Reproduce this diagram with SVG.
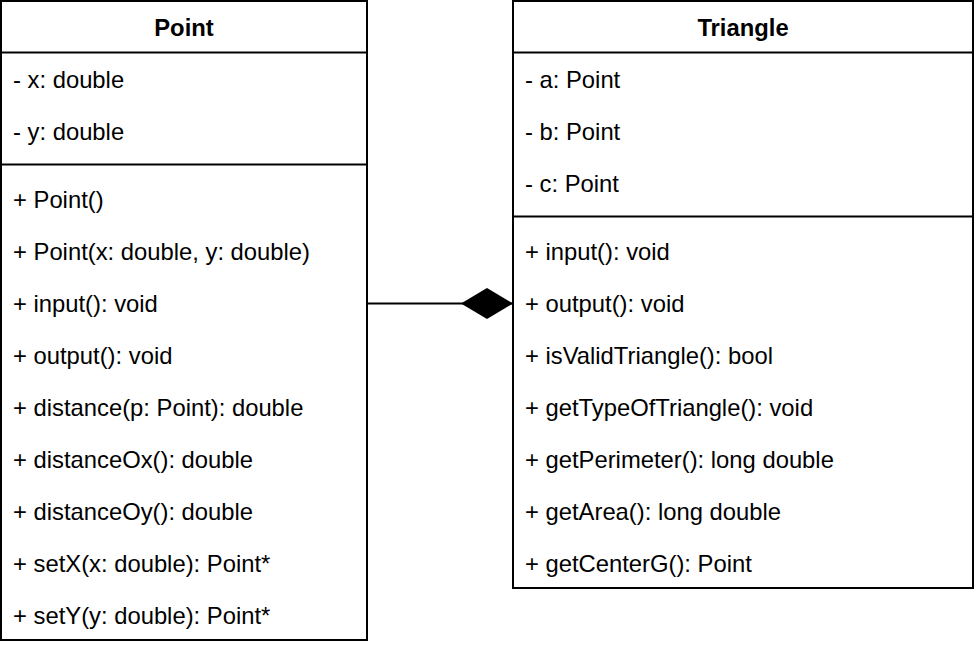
<svg xmlns="http://www.w3.org/2000/svg" width="974" height="648" viewBox="0 0 974 648">
<defs>
<style>
.box{fill:#ffffff;stroke:#000000;stroke-width:2}
.sep{stroke:#000000;stroke-width:2;fill:none}
.t{font-family:"Liberation Sans",Arial,sans-serif;font-size:23.8px;fill:#000000}
.h{font-family:"Liberation Sans",Arial,sans-serif;font-size:23.8px;font-weight:bold;fill:#000000;text-anchor:middle}
.conn{stroke:#000000;stroke-width:2;fill:none}
</style>
<marker id="diamond" markerUnits="userSpaceOnUse" markerWidth="54" markerHeight="34" viewBox="0 0 54 34" refX="53" refY="17" orient="auto">
<path d="M1,17 L27,1.5 L53,17 L27,32.5 Z" fill="#000000"/>
</marker>
</defs>
<rect width="974" height="648" fill="#ffffff"/>
<g id="connectors">
<path class="conn" d="M367,303.5 L513,303.5" marker-end="url(#diamond)"/>
</g>
<g id="point">
<rect class="box" x="1" y="1" width="366" height="639"/>
<line class="sep" x1="1" y1="52.5" x2="367" y2="52.5"/>
<line class="sep" x1="1" y1="164.5" x2="367" y2="164.5"/>
<text class="h" x="184" y="35.5">Point</text>
<text class="t" x="13" y="87.5">- x: double</text>
<text class="t" x="13" y="139.5">- y: double</text>
<text class="t" x="13" y="207.5">+ Point()</text>
<text class="t" x="13" y="259.5">+ Point(x: double, y: double)</text>
<text class="t" x="13" y="311.5">+ input(): void</text>
<text class="t" x="13" y="363.5">+ output(): void</text>
<text class="t" x="13" y="415.5">+ distance(p: Point): double</text>
<text class="t" x="13" y="467.5">+ distanceOx(): double</text>
<text class="t" x="13" y="519.5">+ distanceOy(): double</text>
<text class="t" x="13" y="571.5">+ setX(x: double): Point*</text>
<text class="t" x="13" y="623.5">+ setY(y: double): Point*</text>
</g>
<g id="triangle">
<rect class="box" x="513" y="1" width="460" height="587"/>
<line class="sep" x1="513" y1="52.5" x2="973" y2="52.5"/>
<line class="sep" x1="513" y1="216.5" x2="973" y2="216.5"/>
<text class="h" x="743" y="35.5">Triangle</text>
<text class="t" x="525" y="87.5">- a: Point</text>
<text class="t" x="525" y="139.5">- b: Point</text>
<text class="t" x="525" y="191.5">- c: Point</text>
<text class="t" x="525" y="259.5">+ input(): void</text>
<text class="t" x="525" y="311.5">+ output(): void</text>
<text class="t" x="525" y="363.5">+ isValidTriangle(): bool</text>
<text class="t" x="525" y="415.5">+ getTypeOfTriangle(): void</text>
<text class="t" x="525" y="467.5">+ getPerimeter(): long double</text>
<text class="t" x="525" y="519.5">+ getArea(): long double</text>
<text class="t" x="525" y="571.5">+ getCenterG(): Point</text>
</g>
</svg>
